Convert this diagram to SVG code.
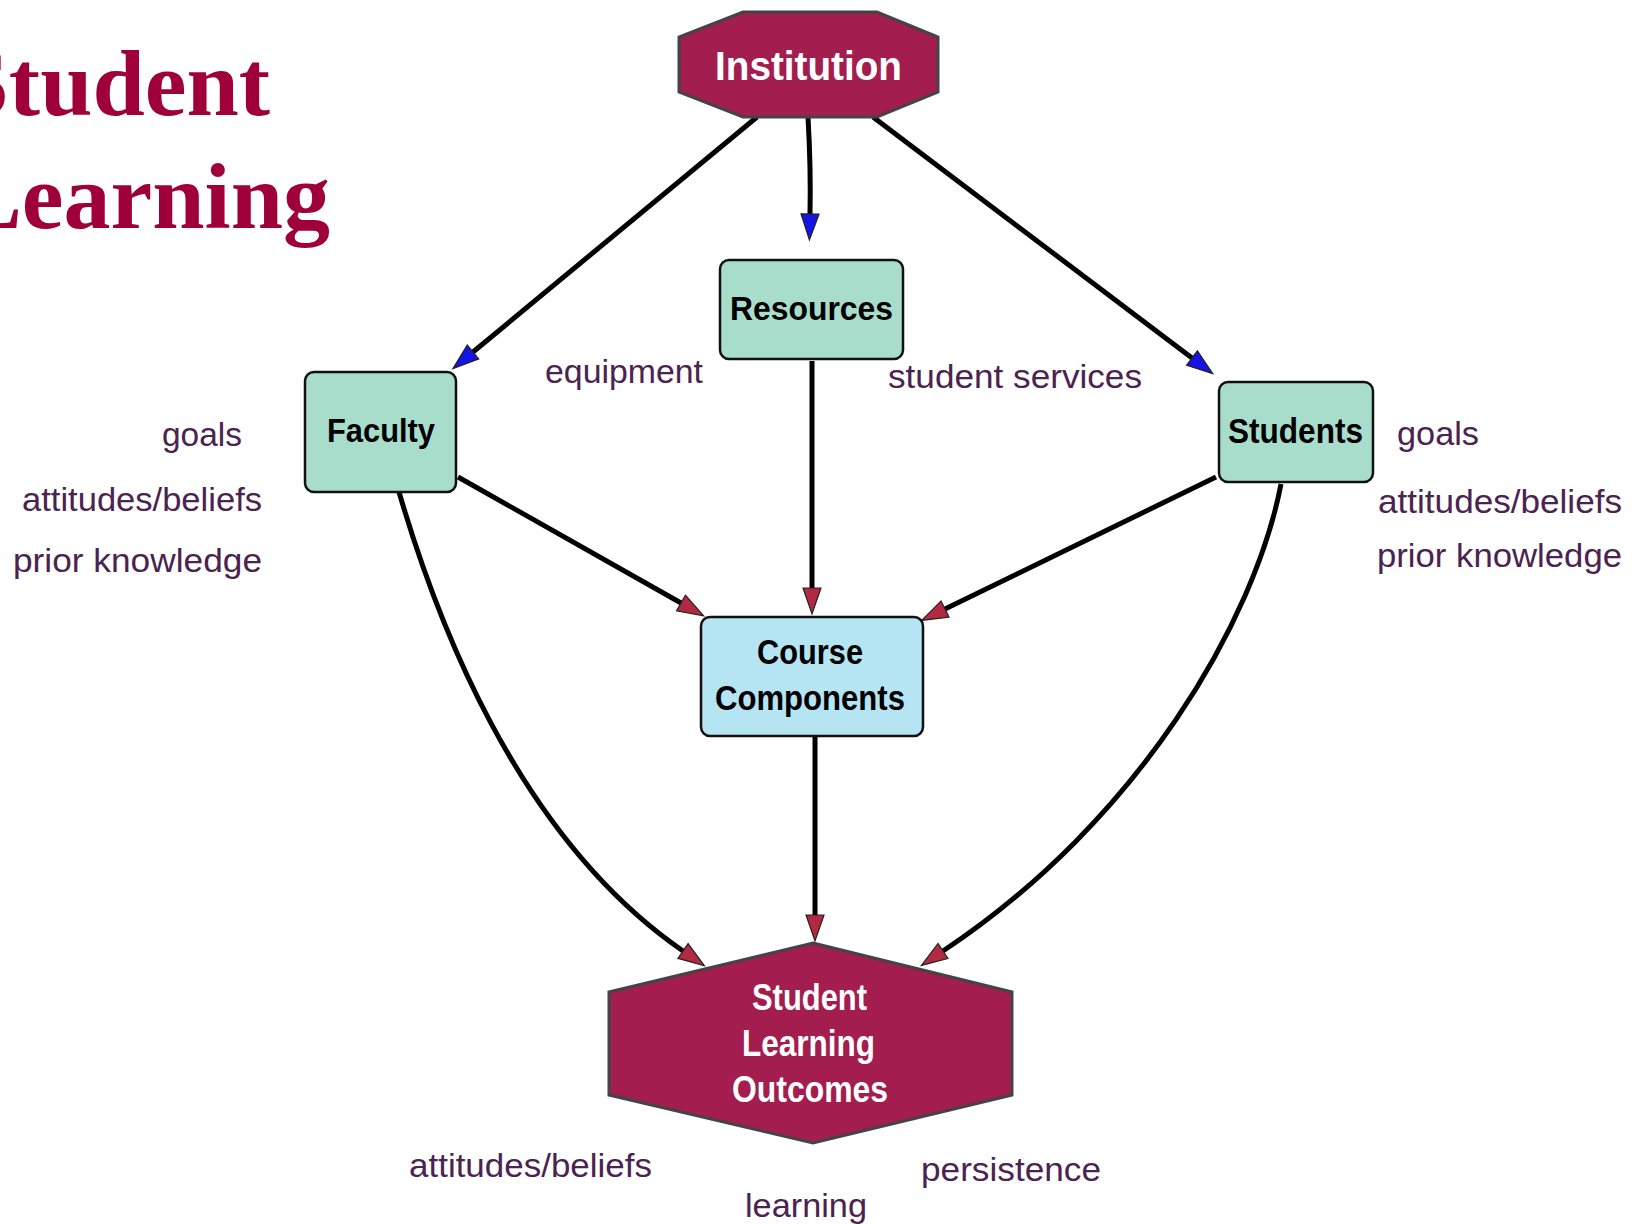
<svg xmlns="http://www.w3.org/2000/svg" width="1643" height="1224" viewBox="0 0 1643 1224">
<style>
.title{font-family:"Liberation Serif","Times New Roman",serif;font-weight:bold;font-size:94px;fill:#a00038}
.box{stroke:#111;stroke-width:2.5}
.mint{fill:#a8dccb}
.blue{fill:#b5e4f3}
.crim{fill:#a31d4e;stroke:#444;stroke-width:3}
.nt{font-family:"Liberation Sans",Arial,sans-serif;font-weight:bold;fill:#000}
.wt{font-family:"Liberation Sans",Arial,sans-serif;font-weight:bold;fill:#fff}
.lab{font-family:"Liberation Sans",Arial,sans-serif;font-size:33px;fill:#4a2350}
.con{fill:none;stroke:#000;stroke-width:5}
</style>
<defs>
<marker id="ab" markerUnits="userSpaceOnUse" markerWidth="30" markerHeight="22" refX="0" refY="9" orient="auto" viewBox="-2 -2 30 22"><path d="M0,0 L26,9 L0,18 z" fill="#1414e6" stroke="#222" stroke-width="1.2"/></marker>
<marker id="ar" markerUnits="userSpaceOnUse" markerWidth="30" markerHeight="22" refX="0" refY="9" orient="auto" viewBox="-2 -2 30 22"><path d="M0,0 L26,9 L0,18 z" fill="#b22a42" stroke="#222" stroke-width="1.2"/></marker>
</defs>
<rect width="1643" height="1224" fill="#fff"/>
<g id="title">
<text class="title" x="270" y="115" text-anchor="end">Student</text>
<text class="title" x="330" y="228" text-anchor="end">Learning</text>
</g>
<g id="connectors">
<path class="con" d="M757,117 L473,352" marker-end="url(#ab)"/>
<path class="con" d="M808,117 Q811,170 810,214" marker-end="url(#ab)"/>
<path class="con" d="M873,117 L1192,358" marker-end="url(#ab)"/>
<path class="con" d="M458,477 L681,603" marker-end="url(#ar)"/>
<path class="con" d="M812,361 L812,588" marker-end="url(#ar)"/>
<path class="con" d="M1216,477 L945,609" marker-end="url(#ar)"/>
<path class="con" d="M399,492 C435,615 515,835 683,951" marker-end="url(#ar)"/>
<path class="con" d="M815,737 L815,915" marker-end="url(#ar)"/>
<path class="con" d="M1281,484 C1255,620 1140,820 943,951" marker-end="url(#ar)"/>
</g>
<g id="institution">
<polygon class="crim" points="743,12 877,12 938,37 938,92 877,117 743,117 679,92 679,37"/>
<text class="wt" x="715" y="80" font-size="40" textLength="187" lengthAdjust="spacingAndGlyphs">Institution</text>
</g>
<g id="resources">
<rect class="box mint" x="720" y="260" width="183" height="99" rx="9"/>
<text class="nt" x="730" y="320" font-size="34" textLength="163" lengthAdjust="spacingAndGlyphs">Resources</text>
</g>
<g id="faculty">
<rect class="box mint" x="305" y="372" width="151" height="120" rx="9"/>
<text class="nt" x="327" y="442" font-size="33" textLength="108" lengthAdjust="spacingAndGlyphs">Faculty</text>
</g>
<g id="students">
<rect class="box mint" x="1219" y="382" width="154" height="100" rx="9"/>
<text class="nt" x="1228" y="443" font-size="35" textLength="135" lengthAdjust="spacingAndGlyphs">Students</text>
</g>
<g id="course">
<rect class="box blue" x="701" y="617" width="222" height="119" rx="9"/>
<text class="nt" x="757" y="664" font-size="35" textLength="106" lengthAdjust="spacingAndGlyphs">Course</text>
<text class="nt" x="715" y="710" font-size="35" textLength="190" lengthAdjust="spacingAndGlyphs">Components</text>
</g>
<g id="outcomes">
<polygon class="crim" points="813,943 1012,992 1012,1095 813,1143 609,1095 609,992"/>
<text class="wt" x="752" y="1010" font-size="37" textLength="115" lengthAdjust="spacingAndGlyphs">Student</text>
<text class="wt" x="742" y="1056" font-size="37" textLength="133" lengthAdjust="spacingAndGlyphs">Learning</text>
<text class="wt" x="732" y="1102" font-size="37" textLength="156" lengthAdjust="spacingAndGlyphs">Outcomes</text>
</g>
<g id="labels">
<text class="lab" x="162" y="446" textLength="80" lengthAdjust="spacingAndGlyphs">goals</text>
<text class="lab" x="22" y="511" textLength="240" lengthAdjust="spacingAndGlyphs">attitudes/beliefs</text>
<text class="lab" x="13" y="572" textLength="249" lengthAdjust="spacingAndGlyphs">prior knowledge</text>
<text class="lab" x="1397" y="445" textLength="82" lengthAdjust="spacingAndGlyphs">goals</text>
<text class="lab" x="1378" y="513" textLength="244" lengthAdjust="spacingAndGlyphs">attitudes/beliefs</text>
<text class="lab" x="1377" y="567" textLength="245" lengthAdjust="spacingAndGlyphs">prior knowledge</text>
<text class="lab" x="545" y="383" textLength="158" lengthAdjust="spacingAndGlyphs">equipment</text>
<text class="lab" x="888" y="388" textLength="254" lengthAdjust="spacingAndGlyphs">student services</text>
<text class="lab" x="409" y="1177" textLength="243" lengthAdjust="spacingAndGlyphs">attitudes/beliefs</text>
<text class="lab" x="745" y="1217" textLength="122" lengthAdjust="spacingAndGlyphs">learning</text>
<text class="lab" x="921" y="1181" textLength="180" lengthAdjust="spacingAndGlyphs">persistence</text>
</g>
</svg>
